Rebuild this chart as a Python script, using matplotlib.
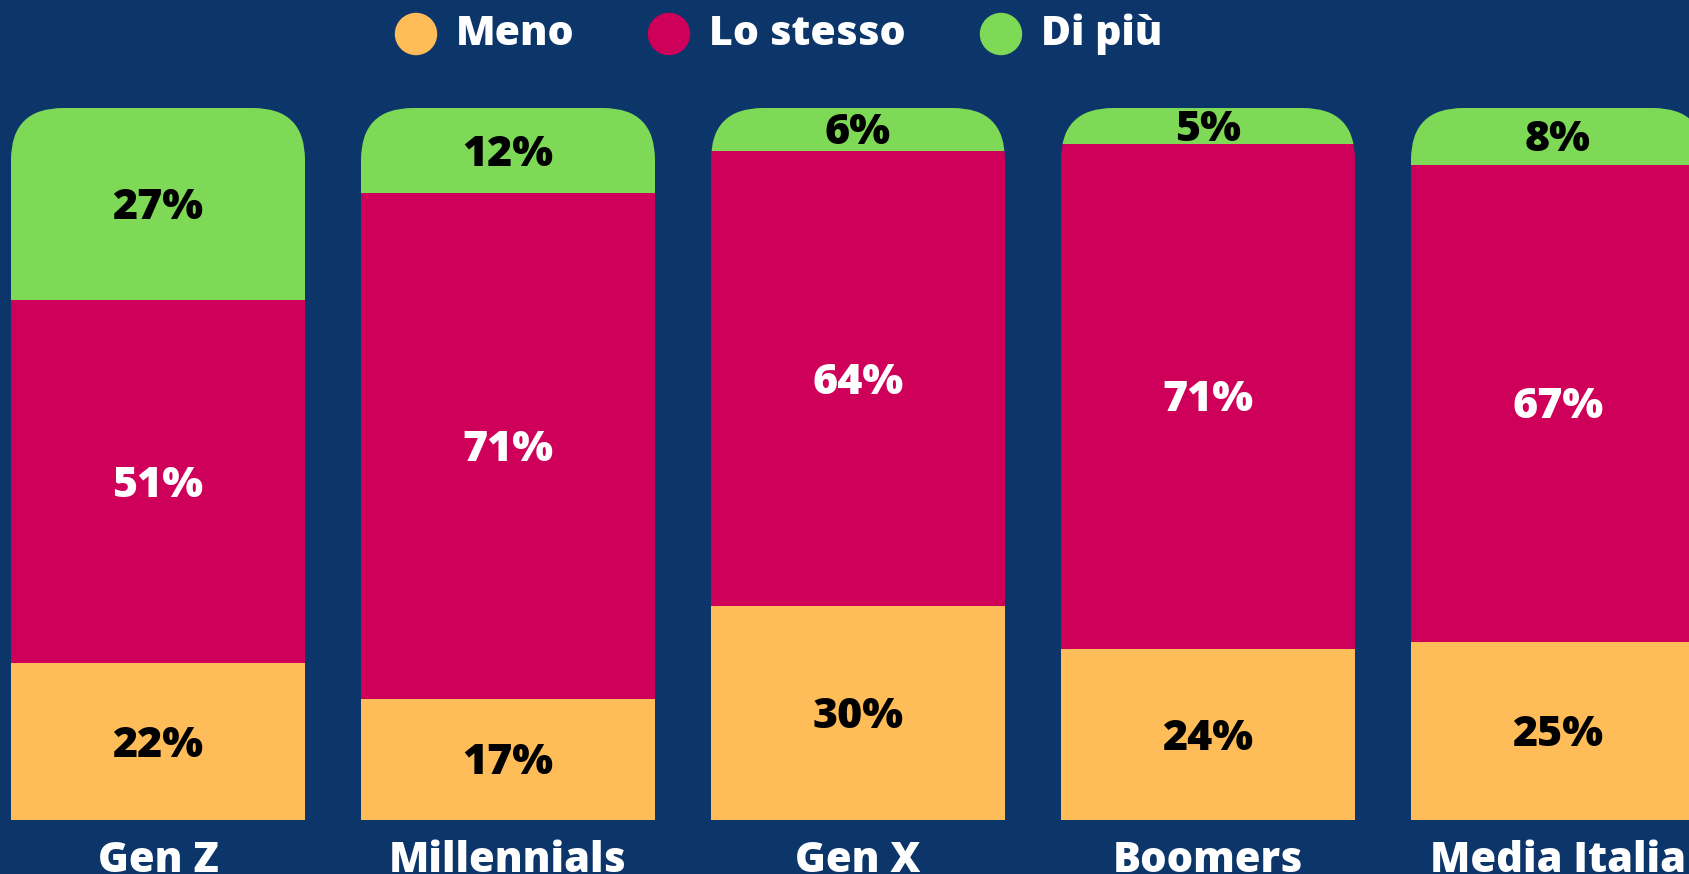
import matplotlib
matplotlib.use("Agg")
import matplotlib.pyplot as plt
from matplotlib.patches import FancyBboxPatch, Ellipse

plt.rcParams['font.family'] = ['Open Sans', 'DejaVu Sans']

# data
categories = ['Gen Z', 'Millennials', 'Gen X', 'Boomers', 'Media Italia']
meno = [22, 17, 30, 24, 25]
stesso = [51, 71, 64, 71, 67]
di_piu = [27, 12, 6, 5, 8]
series_names = ['Meno', 'Lo stesso', 'Di più']

bg = '#0C356A'
colors = ['#FFBD59', '#CF0059', '#7ED957']
text_colors = ['black', 'white', 'black']

W, H = 1690, 874
fig = plt.figure(figsize=(W / 100, H / 100), dpi=100, facecolor=bg)
# plot region: 0..100 maps to pixel rows 820..108
ax = fig.add_axes([0, (H - 820) / H, 1, (820 - 108) / H])
ax.set_facecolor(bg)
pitch = 350
x0 = 158
ax.set_xlim(-x0 / pitch, (W - x0) / pitch)
ax.set_ylim(0, 100)
ax.axis('off')

bar_w = 294 / pitch
px_per_y = (820 - 108) / 100
radius_px = 52
rx = radius_px / pitch
aspect = (radius_px / px_per_y) / rx
nudge = 4 / px_per_y  # labels sit a touch below segment centre

wt = 800
lab_size = 31
for i, cat in enumerate(categories):
    # rounded top corners: clip each stack to a rounded box
    clip = FancyBboxPatch((i - bar_w / 2, -20), bar_w, 120,
                          boxstyle=f"round,pad=0,rounding_size={rx}",
                          mutation_aspect=aspect, transform=ax.transData,
                          facecolor='none', edgecolor='none')
    ax.add_patch(clip)
    bottom = 0
    for vals, c, tc in zip([meno, stesso, di_piu], colors, text_colors):
        v = vals[i]
        bars = ax.bar(i, v, bottom=bottom, width=bar_w, color=c, linewidth=0)
        for b in bars:
            b.set_clip_path(clip)
        ax.text(i, bottom + v / 2 - nudge, f'{v}%', ha='center', va='center',
                color=tc, fontsize=lab_size, fontweight=wt)
        bottom += v
    ax.text(i, -(872 - 820) / px_per_y, cat, ha='center', va='baseline',
            color='white', fontsize=30, fontweight=wt, clip_on=False)

# legend
leg_x = [416, 669, 1001]
for lx, name, c in zip(leg_x, series_names, colors):
    fig.patches.append(Ellipse((lx / W, 1 - 34 / H), 41 / W, 41 / H,
                               transform=fig.transFigure, color=c))
    fig.text((lx + 40) / W, 1 - 45 / H, name, color='white', fontsize=29.5,
             fontweight=wt, ha='left', va='baseline')

fig.savefig('out.png', dpi=100, facecolor=bg)
